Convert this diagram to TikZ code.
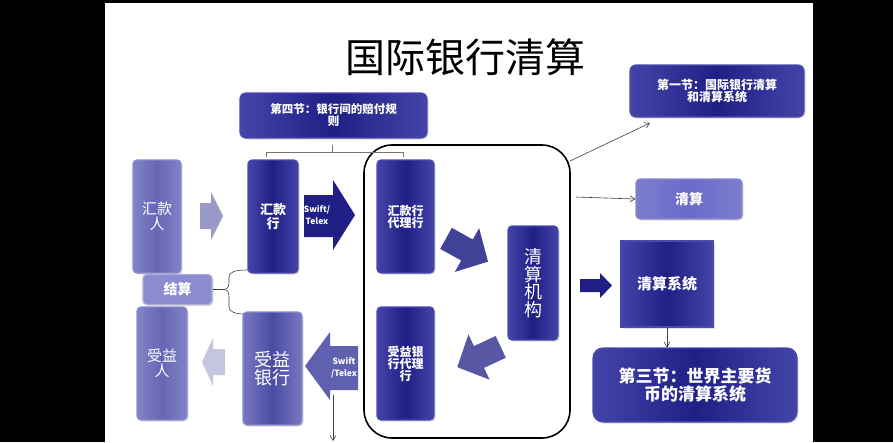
\documentclass[tikz,border=0pt]{standalone}
\usepackage{fontspec}
\setmainfont{Noto Sans CJK SC}
\usetikzlibrary{shadows,arrows.meta}
\definecolor{dkblue}{HTML}{1F1F86}
\definecolor{dkedge}{HTML}{4A4AAE}
\definecolor{peri}{HTML}{6666B4}
\definecolor{periedge}{HTML}{8A8ACC}
\definecolor{midblue}{HTML}{4B4BA5}
\definecolor{clrblue}{HTML}{6A6ACC}
\definecolor{lav}{HTML}{8B8BD0}
\definecolor{grayarrow}{HTML}{9A9AC8}
\definecolor{lightarrow}{HTML}{C5C5DF}
\definecolor{swiftlow}{HTML}{6060B0}
\newcommand{\fsz}[2]{\fontsize{#1}{#2}\selectfont}
\tikzset{
  basebox/.style={line width=1.2pt, rounded corners=4pt, text=white, align=center, inner sep=0pt,
    drop shadow={shadow xshift=1.5pt, shadow yshift=-1.5pt, opacity=0.25}},
  darkbox/.style={basebox, left color=dkedge!85!dkblue, right color=dkedge!85!dkblue, middle color=dkblue, draw=dkedge},
  peribox/.style={basebox, left color=periedge!80!peri, right color=periedge!80!peri, middle color=peri, draw=periedge},
  conn/.style={draw=black!75, line width=0.6pt},
  connarrow/.style={conn, -{Straight Barb[length=5pt,width=6pt]}},
  bracket/.style={draw=black!55, line width=0.8pt}
}
\begin{document}
\begin{tikzpicture}[x=1pt,y=-1pt]
\fill[black] (0,0) rectangle (893,442);
\fill[white] (105,3) rectangle (813,442);
\useasboundingbox (0,0) rectangle (893,442);

% title
\node (title) at (465,57) {\fsz{40}{44}国际银行清算};

% section 4
\node[darkbox, rounded corners=6pt, minimum width=187pt, minimum height=45pt, font=\bfseries] (sec4) at (333.5,115.5)
  {\fsz{11.5}{15}第四节：银行间的赔付规\\\fsz{11.5}{15}则};

% big frame
\node[draw, line width=1.6pt, rounded corners=28pt, minimum width=206pt, minimum height=293pt, inner sep=0pt] (frame) at (467,291.5) {};

% left column
\node[peribox, minimum width=48pt, minimum height=113pt] (remitter) at (157,216.5)
  {\fsz{15}{18}汇款\\\fsz{15}{18}人};
\node[darkbox, minimum width=50pt, minimum height=113pt, font=\bfseries] (remitbank) at (273,216.5)
  {\fsz{13}{16}汇款\\\fsz{13}{16}行};
\node[darkbox, minimum width=57pt, minimum height=113pt, font=\bfseries] (remagent) at (405.5,216.5)
  {\fsz{12}{15}汇款行\\\fsz{12}{15}代理行};
\node[darkbox, minimum width=50pt, minimum height=114pt] (clearing) at (533,283)
  {\fsz{18}{24}清\\\fsz{18}{24}算\\\fsz{18}{24}机\\\fsz{18}{24}构};
\node[darkbox, minimum width=57pt, minimum height=113pt, font=\bfseries] (benagent) at (405.5,363.5)
  {\fsz{12}{15}受益银\\\fsz{12}{15}行代理\\\fsz{12}{15}行};
\node[basebox, left color=periedge!70!midblue, right color=periedge!70!midblue, middle color=midblue, draw=periedge, minimum width=59pt, minimum height=113pt] (benbank) at (272.5,368.5)
  {\fsz{18}{22}受益\\\fsz{18}{22}银行};
\node[peribox, minimum width=50pt, minimum height=113pt] (beneficiary) at (162,363.5)
  {\fsz{15}{18}受益\\\fsz{15}{18}人};
\node[basebox, fill=lav, draw=periedge!70, minimum width=69pt, minimum height=30pt, font=\bfseries] (settle) at (177.5,289.5)
  {\fsz{14}{16}结算};

% right column
\node[darkbox, rounded corners=6pt, minimum width=174pt, minimum height=52pt, font=\bfseries] (sec1) at (717,91)
  {\fsz{12}{15}第一节：国际银行清算\\\fsz{12}{15}和清算系统};
\node[basebox, left color=periedge!60!clrblue, right color=periedge!60!clrblue, middle color=clrblue, draw=periedge, minimum width=106pt, minimum height=40pt, font=\bfseries] (clr) at (689,199)
  {\fsz{14}{16}清算};
\node[darkbox, rounded corners=0pt, minimum width=92pt, minimum height=86pt, font=\bfseries] (clrsys) at (667,284)
  {\fsz{15}{18}清算系统};
\node[darkbox, rounded corners=10pt, minimum width=204pt, minimum height=74pt, font=\bfseries] (sec3) at (695,385)
  {\fsz{17}{22}第三节：世界主要货\\\fsz{17}{22}币的清算系统};

% block arrows
\fill[grayarrow] (200,203) -- (211,203) -- (211,192) -- (223,216) -- (211,240) -- (211,229) -- (200,229) -- cycle;
\fill[dkblue] (304,195) -- (333,195) -- (333,180) -- (355,215) -- (333,250) -- (333,237) -- (304,237) -- cycle;
\node[font=\bfseries, text=white, align=center, inner sep=0pt] (swift1) at (317,215) {\fsz{8.5}{11}Swift/\\\fsz{8.5}{11}Telex};
\fill[swiftlow] (358,346) -- (330,346) -- (330,332) -- (305,366) -- (330,400) -- (330,390) -- (358,390) -- cycle;
\node[font=\bfseries, text=white, align=center, inner sep=0pt] (swift2) at (344,368) {\fsz{8.5}{11}Swift\\\fsz{8.5}{11}/Telex};
\fill[lightarrow] (225,349) -- (213,349) -- (213,338) -- (202,362) -- (213,386) -- (213,375) -- (225,375) -- cycle;
\fill[dkblue] (580,279) -- (600,279) -- (600,273) -- (612,285.5) -- (600,298) -- (600,292) -- (580,292) -- cycle;
\begin{scope}[shift={(467,250)}, rotate=-29]
  \fill[dkblue!85!white] (-24,-12) -- (0,-12) -- (0,-25) -- (24,0) -- (0,25) -- (0,12) -- (-24,12) -- cycle;
\end{scope}
\begin{scope}[shift={(479,357)}, rotate=205]
  \fill[dkblue!75!white] (-24,-12) -- (0,-12) -- (0,-25) -- (24,0) -- (0,25) -- (0,12) -- (-24,12) -- cycle;
\end{scope}

% bracket under section 4
\coordinate (bl) at (266,157);
\coordinate (br) at (403,157);
\coordinate (bt) at (332,145);
\draw[bracket] (bl) -- (266,152) -- (403,152) -- (br);
\draw[bracket] (bt) -- (332,152);

% brace from settle
\coordinate (bmid) at (222,289.5);
\coordinate (btop) at (248,270);
\coordinate (bbot) at (244,314);
\draw[conn] (settle.east) -- (bmid)
  .. controls (229,289.5) and (229,286) .. (229,281) -- (229,277)
  .. controls (229,272) and (235,270) .. (btop);
\draw[conn] (bmid)
  .. controls (229,289.5) and (229,293) .. (229,298) -- (229,307)
  .. controls (229,312) and (236,314) .. (bbot);

% connectors on the right
\coordinate (fr1) at (570,161);
\coordinate (fr2) at (576,197);
\draw[connarrow] (fr1) -- (650,123);
\draw[connarrow] (fr2) -- (clr.west);
\draw[connarrow] (clrsys.south) -- (clrsys.south |- sec3.north);

% downward line below Swift arrow
\coordinate (sw) at (333,395);
\coordinate (swend) at (333,441);
\draw[connarrow] (sw) -- (swend);
\end{tikzpicture}
\end{document}
